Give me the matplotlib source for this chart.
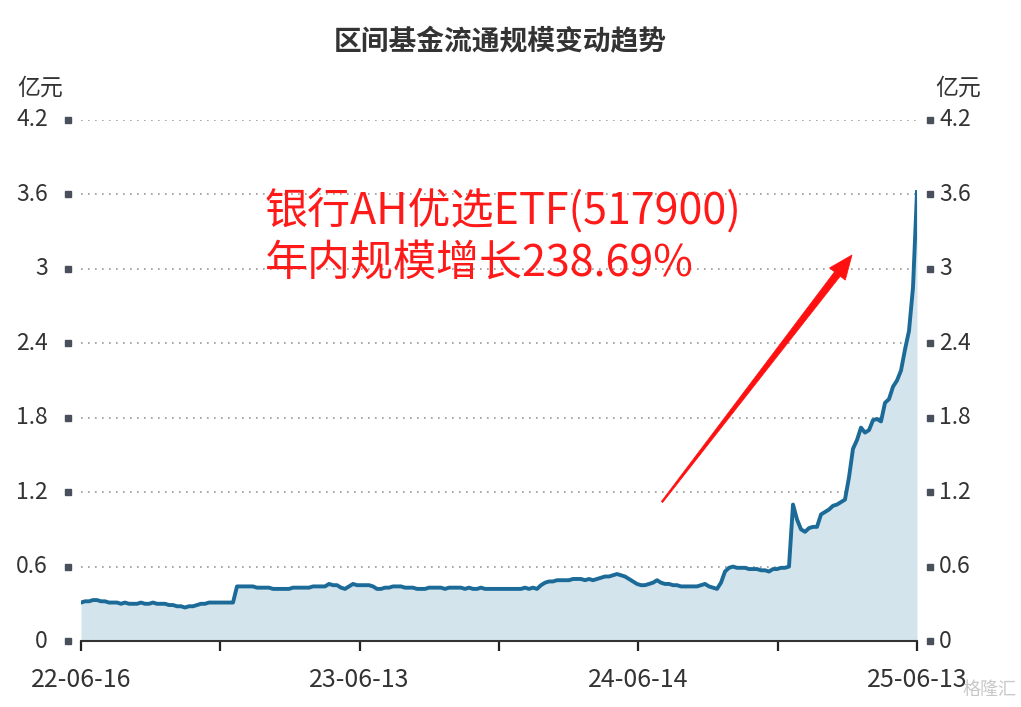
import numpy as np
import matplotlib
matplotlib.use("Agg")
import matplotlib.pyplot as plt
from matplotlib.patches import Polygon
import matplotlib.transforms as mtransforms

plt.rcParams['font.family'] = ['Noto Sans CJK SC', 'DejaVu Sans']

title = "区间基金流通规模变动趋势"
unit_label = "亿元"
annot_line1 = "银行AH优选ETF(517900)"
annot_line2 = "年内规模增长238.69%"
x_tick_labels = ["22-06-16", "", "23-06-13", "", "24-06-14", "", "25-06-13"]
y_ticks = [0, 0.6, 1.2, 1.8, 2.4, 3.0, 3.6, 4.2]
y_tick_labels = ["0", "0.6", "1.2", "1.8", "2.4", "3", "3.6", "4.2"]

# fund circulating scale (亿元), equally spaced samples from 22-06-16 to 25-06-13
scale = [
    0.31, 0.32, 0.32, 0.33, 0.33, 0.32, 0.32, 0.31, 0.31, 0.31,
    0.30, 0.31, 0.30, 0.30, 0.30, 0.31, 0.30, 0.30, 0.31, 0.30, 0.30, 0.30,
    0.29, 0.29, 0.28, 0.28, 0.27, 0.28,
    0.28, 0.29, 0.30, 0.30, 0.31, 0.31, 0.31, 0.31, 0.31, 0.31, 0.31,
    0.44,
    0.44, 0.44, 0.44, 0.44, 0.43, 0.43, 0.43, 0.43, 0.42, 0.42, 0.42,
    0.42, 0.42, 0.43, 0.43, 0.43, 0.43, 0.43, 0.44, 0.44, 0.44, 0.44, 0.46,
    0.45, 0.45, 0.43, 0.42, 0.44, 0.46, 0.45, 0.45, 0.45, 0.45,
    0.44, 0.42, 0.42, 0.43, 0.43, 0.44, 0.44, 0.44, 0.43, 0.43, 0.43,
    0.42, 0.42, 0.42, 0.43, 0.43, 0.43, 0.43, 0.42, 0.43, 0.43, 0.43,
    0.43, 0.42, 0.43, 0.42, 0.42, 0.43, 0.42, 0.42, 0.42, 0.42, 0.42,
    0.42, 0.42, 0.42, 0.42, 0.42, 0.43, 0.42, 0.43, 0.42, 0.45,
    0.47, 0.48, 0.48, 0.49, 0.49, 0.49, 0.49, 0.50, 0.50, 0.50, 0.49,
    0.50, 0.49, 0.50, 0.51, 0.52, 0.52, 0.53, 0.54, 0.53, 0.52, 0.50,
    0.48, 0.46, 0.45, 0.45, 0.46, 0.47, 0.49, 0.47, 0.46, 0.46, 0.45,
    0.45, 0.44, 0.44, 0.44, 0.44, 0.44, 0.45, 0.46, 0.44, 0.43, 0.42,
    0.47, 0.56, 0.59, 0.60, 0.59, 0.59, 0.59, 0.58, 0.58, 0.58, 0.57,
    0.57, 0.56, 0.58, 0.58, 0.59, 0.59, 0.60,
    1.10,
    0.98, 0.90, 0.88, 0.91, 0.92, 0.92, 1.02, 1.04, 1.06, 1.09, 1.10,
    1.12, 1.14, 1.32, 1.55, 1.62, 1.72, 1.68, 1.70, 1.78, 1.79, 1.77,
    1.92, 1.95, 2.05, 2.10, 2.18, 2.35, 2.50, 2.85, 3.62,
]

W, H = 1021, 707
fig = plt.figure(figsize=(W / 100, H / 100), dpi=100)
ax = fig.add_axes([81 / W, (H - 641) / H, (917 - 81) / W, (641 - 120) / H])

n = len(scale)
x = np.arange(n)
line_color = "#1b6a97"
fill_color = "#d3e4ec"

ax.fill_between(x, 0, scale, color=fill_color, zorder=2, linewidth=0)
ax.plot(x, scale, color=line_color, lw=2.8, zorder=3, solid_joinstyle="round")

ax.set_xlim(0, n - 1)
ax.set_ylim(0, 4.2)

# grid
for yv in y_ticks[1:]:
    ax.axhline(yv, color="#9a9a9a", lw=1.2, linestyle=(0, (1, 3.2)), zorder=1)

for s in ["top", "right", "left"]:
    ax.spines[s].set_visible(False)
ax.spines["bottom"].set_color("#333333")
ax.spines["bottom"].set_linewidth(1.5)
ax.spines["bottom"].set_zorder(4)

xt = [(n - 1) * k / 6 for k in range(7)]
ax.set_xticks(xt)
ax.set_xticklabels(x_tick_labels, fontsize=18, color="#333333")
ax.tick_params(axis="x", direction="out", length=7, width=1.6, color="#222222", pad=12)
ax.set_yticks([])

# y tick markers and labels on both sides
blend = mtransforms.blended_transform_factory(ax.transAxes, ax.transData)
axw = (917 - 81)
ax.plot([-13 / axw] * len(y_ticks), y_ticks, "s", ms=4.5, color="#4a4f5c",
        transform=blend, clip_on=False)
ax.plot([1 + 13 / axw] * len(y_ticks), y_ticks, "s", ms=4.5, color="#4a4f5c",
        transform=blend, clip_on=False)
for yv, lab in zip(y_ticks, y_tick_labels):
    ax.text(-33 / axw, yv, lab, transform=blend, ha="right", va="center",
            fontsize=16.5, color="#333333")
    ax.text(1 + 22 / axw, yv, lab, transform=blend, ha="left", va="center",
            fontsize=16.5, color="#333333")

fig.text(40 / W, 1 - 88 / H, unit_label, ha="center", va="center", fontsize=16.5, color="#333333")
fig.text(958 / W, 1 - 88 / H, unit_label, ha="center", va="center", fontsize=16.5, color="#333333")

fig.text(500 / W, 1 - 42 / H, title, ha="center", va="center", fontsize=20,
         fontweight="bold", color="#333333")

# annotation text
fig.text(265 / W, 1 - 212 / H, annot_line1, ha="left", va="center", fontsize=31, color="#ff1a1a")
fig.text(265 / W, 1 - 265 / H, annot_line2, ha="left", va="center", fontsize=31, color="#ff1a1a")

# tapered red arrow (figure pixels)
S = np.array([662.0, H - 502.0])
E = np.array([852.0, H - 255.0])
d = E - S
L = np.hypot(*d)
u = d / L
nv = np.array([-u[1], u[0]])
hl, hw, sw0, sw1 = 24.0, 10.0, 0.8, 3.6
B = E - hl * u
pts = [S + sw0 * nv, B + sw1 * nv, B + hw * nv, E, B - hw * nv, B - sw1 * nv, S - sw0 * nv]
pts = [(p[0] / W, p[1] / H) for p in pts]
fig.patches.append(Polygon(pts, closed=True, transform=fig.transFigure,
                           facecolor="#ff1010", edgecolor="#ff1010", lw=0.5, zorder=10))

# watermark
fig.text(990 / W, 1 - 690 / H, "格隆汇", ha="center", va="center", fontsize=13,
         color="#bbbbbb", alpha=0.8)

fig.savefig("out.png", dpi=100)
